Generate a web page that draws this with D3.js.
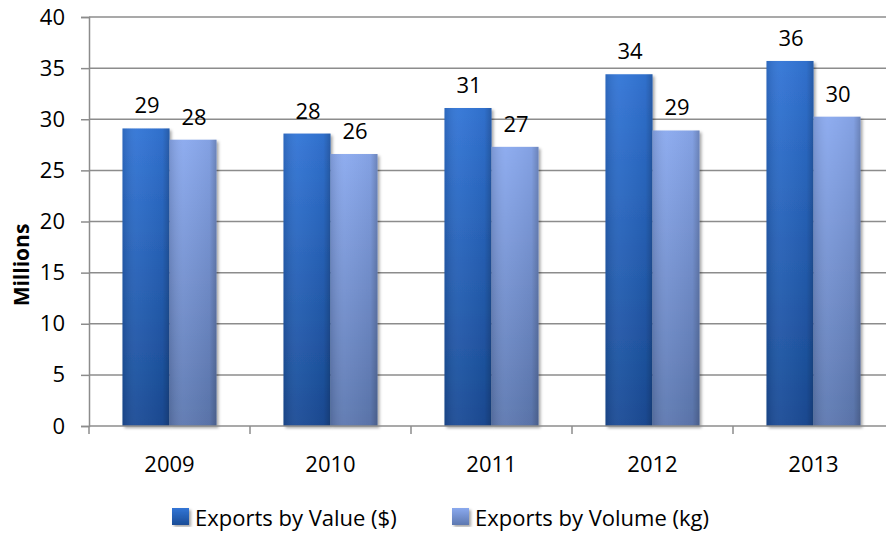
<!DOCTYPE html>
<html>
<head>
<meta charset="utf-8">
<script src="https://cdn.jsdelivr.net/npm/d3@7"></script>
<style>
  body { margin: 0; background: #fff; }
  svg { font-family: "Open Sans", sans-serif; }
</style>
</head>
<body>
<div id="canvas"></div>
<script>
// exports chart

var width = 886;
var height = 534;

var years = ["2009", "2010", "2011", "2012", "2013"];
var seriesNames = ["Exports by Value ($)", "Exports by Volume (kg)"];
var valueExports = [29.1, 28.6, 31.1, 34.4, 35.7];
var volumeExports = [28.0, 26.6, 27.3, 28.9, 30.25];
var valueLabels = ["29", "28", "31", "34", "36"];
var volumeLabels = ["28", "26", "27", "29", "30"];
var yTicks = [0, 5, 10, 15, 20, 25, 30, 35, 40];

var plotLeft = 89, plotTop = 17, plotBottom = 426;
var fontSize = 22;

var svg = d3.select("#canvas").append("svg")
	.attr("width", width)
	.attr("height", height);

var defs = svg.append("defs");
var grads = [["g0", "#3275d6", "#1a4c96"], ["g1", "#8aa9ee", "#5d78b0"]];
grads.forEach(function(g){
	var lg = defs.append("linearGradient").attr("id", g[0])
		.attr("x1", 0).attr("y1", 0).attr("x2", 0).attr("y2", 1);
	lg.append("stop").attr("offset", "0%").attr("stop-color", g[1]);
	lg.append("stop").attr("offset", "100%").attr("stop-color", g[2]);
});
var side = defs.append("linearGradient").attr("id", "side")
	.attr("x1", 0).attr("y1", 0).attr("x2", 1).attr("y2", 0);
side.append("stop").attr("offset", "0%").attr("stop-color", "#000").attr("stop-opacity", 0.12);
side.append("stop").attr("offset", "30%").attr("stop-color", "#fff").attr("stop-opacity", 0.04);
side.append("stop").attr("offset", "85%").attr("stop-color", "#000").attr("stop-opacity", 0.05);
side.append("stop").attr("offset", "100%").attr("stop-color", "#000").attr("stop-opacity", 0.22);
var sh = defs.append("filter").attr("id", "shadow")
	.attr("x", "-20%").attr("y", "-5%").attr("width", "150%").attr("height", "115%");
sh.append("feDropShadow").attr("dx", 2).attr("dy", 2).attr("stdDeviation", 1.5)
	.attr("flood-color", "#000").attr("flood-opacity", 0.35);

var y = d3.scaleLinear().domain([0, 40]).range([plotBottom, plotTop]);
var x0 = d3.scaleBand().domain(years).range([plotLeft, plotLeft + 805])
	.paddingInner(0.416).paddingOuter(0.208);
var x1 = d3.scaleBand().domain([0, 1]).range([0, x0.bandwidth()]);

// gridlines
svg.append("g").selectAll("line")
	.data(yTicks.filter(function(d){ return d > 0; }))
	.enter().append("line")
	.attr("x1", plotLeft).attr("x2", width)
	.attr("y1", function(d){ return y(d); })
	.attr("y2", function(d){ return y(d); })
	.attr("stroke", "#8c8c8c").attr("stroke-width", 1.5);

// y axis
var yAxis = svg.append("g").attr("transform", "translate(" + plotLeft + ",0)")
	.call(d3.axisLeft(y).tickValues(yTicks).tickSize(8).tickPadding(16));
yAxis.select(".domain").attr("stroke", "#8c8c8c").attr("stroke-width", 1.5);
yAxis.selectAll(".tick line").attr("stroke", "#8c8c8c").attr("stroke-width", 1.5);
yAxis.selectAll("text").attr("font-size", fontSize).attr("fill", "#000")
	.attr("font-family", "Open Sans, sans-serif");

// bars
var data = years.map(function(yr, i){
	return {year: yr, vals: [valueExports[i], volumeExports[i]], labels: [valueLabels[i], volumeLabels[i]]};
});
var groups = svg.append("g").selectAll("g")
	.data(data).enter().append("g")
	.attr("transform", function(d){ return "translate(" + x0(d.year) + ",0)"; });

[0, 1].forEach(function(s){
	groups.append("rect")
		.attr("x", x1(s))
		.attr("y", function(d){ return y(d.vals[s]); })
		.attr("width", x1.bandwidth())
		.attr("height", function(d){ return plotBottom - y(d.vals[s]); })
		.attr("fill", "url(#g" + s + ")")
		.attr("filter", "url(#shadow)");
	groups.append("rect")
		.attr("x", x1(s))
		.attr("y", function(d){ return y(d.vals[s]); })
		.attr("width", x1.bandwidth())
		.attr("height", function(d){ return plotBottom - y(d.vals[s]); })
		.attr("fill", "url(#side)");
	groups.append("text")
		.attr("x", x1(s) + x1.bandwidth() / 2 + 1)
		.attr("y", function(d){ return y(d.vals[s]) - 15; })
		.attr("text-anchor", "middle")
		.attr("font-size", fontSize)
		.text(function(d){ return d.labels[s]; });
});

// x axis
var xAxis = svg.append("g").attr("transform", "translate(0," + plotBottom + ")");
xAxis.append("line").attr("x1", plotLeft).attr("x2", width)
	.attr("stroke", "#8c8c8c").attr("stroke-width", 1.5);
xAxis.selectAll(".tk").data(d3.range(6)).enter().append("line")
	.attr("x1", function(i){ return plotLeft + i * x0.step(); })
	.attr("x2", function(i){ return plotLeft + i * x0.step(); })
	.attr("y1", 0).attr("y2", 8)
	.attr("stroke", "#8c8c8c").attr("stroke-width", 1.5);
xAxis.selectAll("text").data(years).enter().append("text")
	.attr("x", function(d){ return x0(d) + x0.bandwidth() / 2; })
	.attr("y", 46)
	.attr("text-anchor", "middle")
	.attr("font-size", fontSize)
	.text(function(d){ return d; });

// axis title
svg.append("text")
	.attr("transform", "translate(29,265) rotate(-90)")
	.attr("text-anchor", "middle")
	.attr("font-size", 21).attr("font-weight", "bold")
	.text("Millions");

// legend
var legendX = [172, 452];
var leg = svg.append("g").selectAll("g").data(seriesNames).enter().append("g")
	.attr("transform", function(d, i){ return "translate(" + legendX[i] + ",508)"; });
leg.append("rect").attr("width", 17).attr("height", 17)
	.attr("fill", function(d, i){ return "url(#g" + i + ")"; })
	.attr("filter", "url(#shadow)");
leg.append("text").attr("x", 23).attr("y", 18)
	.attr("font-size", fontSize)
	.text(function(d){ return d; });
</script>
</body>
</html>
